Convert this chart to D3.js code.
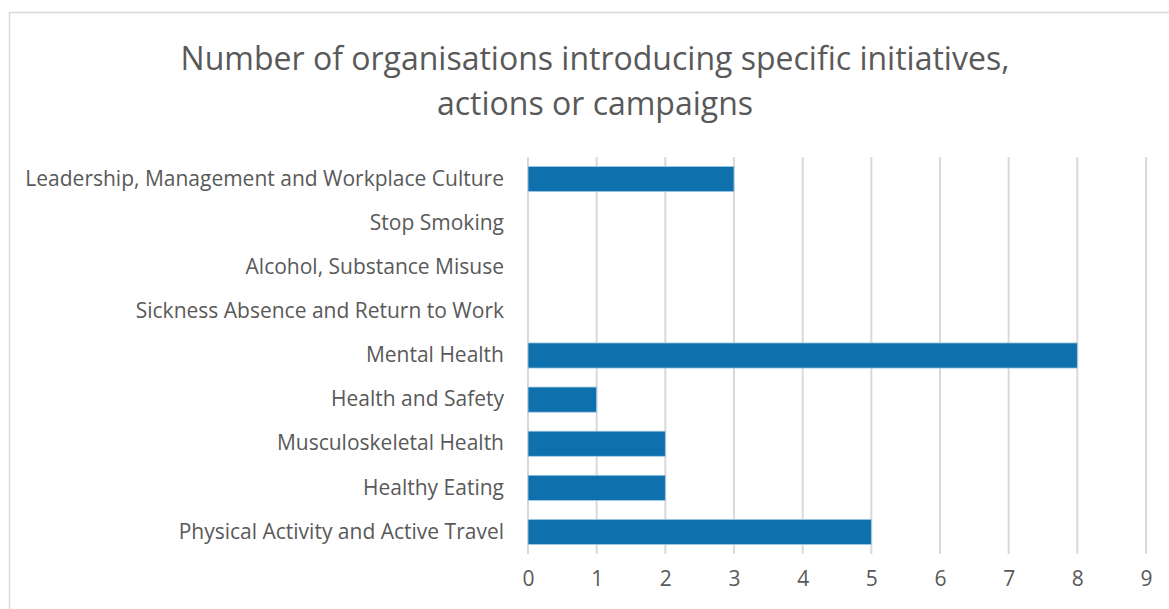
<!DOCTYPE html>
<html>
<head>
<meta charset="utf-8">
<script src="https://cdn.jsdelivr.net/npm/d3@7"></script>
<style>
  body { margin: 0; background: #fff; }
  svg { display: block; }
  text { font-family: "Open Sans", sans-serif; fill: #595959; }
</style>
</head>
<body>
<div id="chart"></div>
<script>
// Data
var categories = [
  "Leadership, Management and Workplace Culture",
  "Stop Smoking",
  "Alcohol, Substance Misuse",
  "Sickness Absence and Return to Work",
  "Mental Health",
  "Health and Safety",
  "Musculoskeletal Health",
  "Healthy Eating",
  "Physical Activity and Active Travel"
];
var values = [3, 0, 0, 0, 8, 1, 2, 2, 5];
var xTicks = [0, 1, 2, 3, 4, 5, 6, 7, 8, 9];
var titleLines = ["Number of organisations introducing specific initiatives,", "actions or campaigns"];

var W = 1169, H = 609;
var margin = {top: 157, right: 23, bottom: 55, left: 528};
var width = W - margin.left - margin.right,
    height = H - margin.top - margin.bottom;

var svg = d3.select("#chart").append("svg")
    .attr("width", W)
    .attr("height", H);

// chart border
svg.append("rect")
    .attr("x", 9.5).attr("y", 12.5)
    .attr("width", W + 10).attr("height", H + 10)
    .attr("fill", "none")
    .attr("stroke", "#d9d9d9")
    .attr("stroke-width", 1.5);

// title
svg.append("text")
    .attr("x", 595)
    .attr("text-anchor", "middle")
    .style("font-size", "32px")
    .selectAll("tspan")
    .data(titleLines)
    .enter().append("tspan")
    .attr("x", 595)
    .attr("y", (d, i) => 70 + i * 45)
    .text(d => d);

var g = svg.append("g")
    .attr("transform", "translate(" + margin.left + "," + margin.top + ")");

var x = d3.scaleLinear()
    .domain([0, 9])
    .range([0, width]);

var y = d3.scaleBand()
    .domain(categories)
    .range([0, height])
    .paddingInner(0.43)
    .paddingOuter(0.215);

// gridlines
g.selectAll(".grid")
    .data(xTicks)
    .enter().append("line")
    .attr("class", "grid")
    .attr("x1", d => x(d)).attr("x2", d => x(d))
    .attr("y1", 0).attr("y2", height)
    .attr("stroke", "#d9d9d9")
    .attr("stroke-width", 2);

// bars
g.selectAll(".bar")
    .data(values)
    .enter().append("rect")
    .attr("class", "bar")
    .attr("x", x(0))
    .attr("y", (d, i) => y(categories[i]))
    .attr("width", d => x(d) - x(0))
    .attr("height", y.bandwidth())
    .attr("fill", "#0f70ae")
    .attr("stroke", d => d > 0 ? "#a9cbe4" : "none")
    .attr("stroke-width", 0.8);

// category labels
var yAxis = d3.axisLeft(y).tickSize(0).tickPadding(24);
g.append("g")
    .call(yAxis)
    .call(s => s.select(".domain").remove())
    .selectAll("text")
    .style("font-size", "21px")
    .attr("fill", "#595959");

// x tick labels
var xAxis = d3.axisBottom(x).tickValues(xTicks).tickSize(0).tickPadding(17);
g.append("g")
    .attr("transform", "translate(0," + height + ")")
    .call(xAxis)
    .call(s => s.select(".domain").remove())
    .selectAll("text")
    .style("font-size", "21px")
    .attr("fill", "#595959");
</script>
</body>
</html>
